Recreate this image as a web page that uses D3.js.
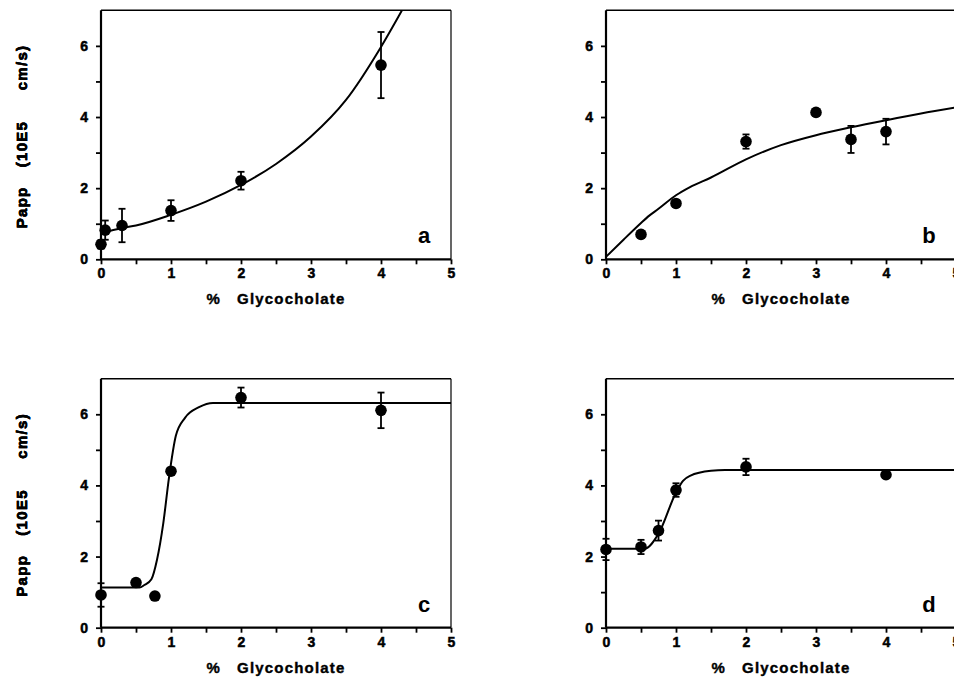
<!DOCTYPE html>
<html>
<head>
<meta charset="utf-8">
<script src="https://cdnjs.cloudflare.com/ajax/libs/d3/7.8.5/d3.min.js"></script>
<style>
  body { margin: 0; background: #fff; }
  svg { display: block; }
</style>
</head>
<body>
<script>
// panel a
var aX = [0, 0.06, 0.3, 1, 2, 4];
var aY = [0.42, 0.82, 0.95, 1.37, 2.21, 5.46];
var aErr = [0.12, 0.27, 0.47, 0.29, 0.25, 0.93];
var aFitX = [0, 0.3, 0.5, 1, 1.5, 2, 2.5, 3, 3.5, 4, 4.3];
var aFitY = [0.73, 0.88, 0.95, 1.25, 1.62, 2.09, 2.68, 3.45, 4.48, 5.97, 7.0];

// panel b
var bX = [0.5, 1, 2, 3, 3.5, 4];
var bY = [0.70, 1.57, 3.31, 4.13, 3.37, 3.59];
var bErr = [0, 0, 0.2, 0, 0.38, 0.36];
var bFitX = [0, 0.25, 0.5, 0.6, 0.75, 1, 1.2, 1.5, 2, 2.5, 3, 3.5, 4, 4.5, 5];
var bFitY = [0.07, 0.55, 1.02, 1.2, 1.42, 1.8, 2.03, 2.3, 2.81, 3.21, 3.49, 3.71, 3.91, 4.1, 4.27];

// panel c
var cX = [0, 0.5, 0.77, 1, 2, 4];
var cY = [0.92, 1.27, 0.89, 4.40, 6.47, 6.11];
var cErr = [0.33, 0, 0, 0, 0.28, 0.5];
var cFitX = [0, 0.55, 0.62, 0.72, 0.8, 0.89, 0.97, 1.07, 1.2, 1.4, 1.6, 5];
var cFitY = [1.13, 1.13, 1.2, 1.36, 1.91, 2.94, 4.2, 5.4, 5.9, 6.2, 6.32, 6.32];

// panel d
var dX = [0, 0.5, 0.75, 1, 2, 4];
var dY = [2.2, 2.27, 2.73, 3.87, 4.52, 4.3];
var dErr = [0.3, 0.2, 0.28, 0.19, 0.23, 0];
var dFitX = [0, 0.55, 0.75, 1.0, 1.1, 1.2, 1.5, 1.7, 5];
var dFitY = [2.22, 2.22, 2.64, 3.8, 4.13, 4.27, 4.41, 4.43, 4.43];

var xTickVals = [0, 0.5, 1, 1.5, 2, 2.5, 3, 3.5, 4, 4.5, 5];
var xTickLabels = [0, 1, 2, 3, 4, 5];
var yTickVals = [0, 1, 2, 3, 4, 5, 6];
var yTickLabels = [0, 2, 4, 6];

var xTitle = "%   Glycocholate";
var yTitleParts = ["Papp", "(10E5", "cm/s)"];

var FONT = "'Liberation Sans', Arial, Helvetica, sans-serif";

var svgWidth = 954;
var svgHeight = 685;
var plotW = 350;
var plotH = 249;

var svg = d3.select("body").append("svg")
  .attr("width", svgWidth)
  .attr("height", svgHeight)
  .attr("font-family", FONT)
  .attr("font-weight", "bold");

svg.append("rect").attr("width", svgWidth).attr("height", svgHeight).attr("fill", "#fff");

var panels = [
  { key: "a", x0: 101, y0: 259.3, px: aX, py: aY, err: aErr, fx: aFitX, fy: aFitY },
  { key: "b", x0: 606, y0: 259.3, px: bX, py: bY, err: bErr, fx: bFitX, fy: bFitY },
  { key: "c", x0: 101, y0: 627.7, px: cX, py: cY, err: cErr, fx: cFitX, fy: cFitY },
  { key: "d", x0: 606, y0: 627.7, px: dX, py: dY, err: dErr, fx: dFitX, fy: dFitY }
];

panels.forEach(function(p, i) {
  var x = d3.scaleLinear().domain([0, 5]).range([p.x0, p.x0 + plotW]);
  var y = d3.scaleLinear().domain([0, 7]).range([p.y0, p.y0 - plotH]);

  var g = svg.append("g");

  // clip for the fitted line
  svg.append("clipPath").attr("id", "clip" + i)
    .append("rect")
    .attr("x", x(0)).attr("y", y(7))
    .attr("width", plotW).attr("height", plotH);

  // frame top + right
  g.append("line")
    .attr("x1", x(0)).attr("x2", x(5))
    .attr("y1", y(7)).attr("y2", y(7))
    .attr("stroke", "#000").attr("stroke-width", 1.4);
  g.append("line")
    .attr("x1", x(5)).attr("x2", x(5))
    .attr("y1", y(7)).attr("y2", y(0))
    .attr("stroke", "#000").attr("stroke-width", 1.2);

  // x axis
  var xAxis = d3.axisBottom(x)
    .tickValues(xTickVals)
    .tickSize(5)
    .tickSizeOuter(0)
    .tickPadding(4)
    .tickFormat(function(d) { return xTickLabels.indexOf(d) >= 0 ? d : ""; });
  var xg = g.append("g")
    .attr("transform", "translate(0," + p.y0 + ")")
    .call(xAxis);

  // y axis
  var yAxis = d3.axisLeft(y)
    .tickValues(yTickVals)
    .tickSize(5)
    .tickSizeOuter(0)
    .tickPadding(8)
    .tickFormat(function(d) { return yTickLabels.indexOf(d) >= 0 ? d : ""; });
  var yg = g.append("g")
    .attr("transform", "translate(" + p.x0 + ",0)")
    .call(yAxis);

  [xg, yg].forEach(function(a) {
    a.attr("font-size", 14).attr("font-family", FONT).attr("font-weight", "bold");
    a.select(".domain").attr("stroke", "#000").attr("stroke-width", 2.2);
    a.selectAll(".tick line").attr("stroke", "#000").attr("stroke-width", 1.8);
    a.selectAll(".tick text")
      .attr("fill", "#000")
      .attr("stroke", "#000")
      .attr("stroke-width", 0.5);
  });
  yg.select(".domain").attr("d", "M0," + y(0) + "V" + y(7));
  xg.select(".domain").attr("d", "M" + x(0) + ",0H" + x(5));

  // x title
  g.append("text")
    .attr("x", p.x0 + 175)
    .attr("y", p.y0 + 45)
    .attr("text-anchor", "middle")
    .attr("font-size", 15)
    .attr("letter-spacing", 1.2)
    .attr("stroke", "#000")
    .attr("stroke-width", 0.4)
    .attr("xml:space", "preserve")
    .style("white-space", "pre")
    .text(xTitle);

  // y title
  var yt = g.append("text")
    .attr("transform", "rotate(-90)")
    .attr("font-size", 15)
    .attr("letter-spacing", 1.3)
    .attr("stroke", "#000")
    .attr("stroke-width", 0.4);
  var starts = [p.y0 - 31, p.y0 - 92, p.y0 - 169];
  yTitleParts.forEach(function(s, k) {
    yt.append("tspan")
      .attr("x", -starts[k])
      .attr("y", 27)
      .text(s);
  });

  // fitted line
  var line = d3.line()
    .x(function(d) { return x(d[0]); })
    .y(function(d) { return y(d[1]); })
    .curve(d3.curveMonotoneX);
  g.append("path")
    .datum(d3.zip(p.fx, p.fy))
    .attr("clip-path", "url(#clip" + i + ")")
    .attr("d", line)
    .attr("fill", "none")
    .attr("stroke", "#000")
    .attr("stroke-width", 2);

  // error bars
  var pts = p.px.map(function(v, k) { return { x: v, y: p.py[k], e: p.err[k] }; });
  var eb = g.selectAll(".eb").data(pts.filter(function(d) { return d.e > 0; }))
    .enter().append("g").attr("class", "eb");
  eb.append("line")
    .attr("x1", function(d) { return x(d.x); }).attr("x2", function(d) { return x(d.x); })
    .attr("y1", function(d) { return y(d.y - d.e); }).attr("y2", function(d) { return y(d.y + d.e); })
    .attr("stroke", "#000").attr("stroke-width", 1.8);
  [-1, 1].forEach(function(sgn) {
    eb.append("line")
      .attr("x1", function(d) { return x(d.x) - 3.5; }).attr("x2", function(d) { return x(d.x) + 3.5; })
      .attr("y1", function(d) { return y(d.y + sgn * d.e); }).attr("y2", function(d) { return y(d.y + sgn * d.e); })
      .attr("stroke", "#000").attr("stroke-width", 1.8);
  });

  // points
  g.selectAll("circle").data(pts).enter().append("circle")
    .attr("cx", function(d) { return x(d.x); })
    .attr("cy", function(d) { return y(d.y); })
    .attr("r", 5.8)
    .attr("fill", "#000");

  // panel letter
  g.append("text")
    .attr("x", p.x0 + 323)
    .attr("y", p.y0 - 16)
    .attr("text-anchor", "middle")
    .attr("font-size", 22)
    .text(p.key);
});
</script>
</body>
</html>
